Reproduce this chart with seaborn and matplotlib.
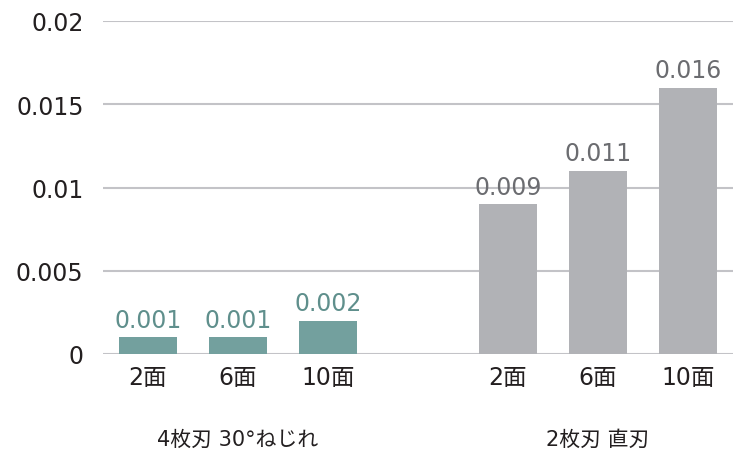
import numpy as np
import matplotlib.pyplot as plt
import matplotlib.transforms as mtransforms
import seaborn as sns
import pandas as pd

groups = ['4枚刃 30°ねじれ', '2枚刃 直刃']
faces = ['2面', '6面', '10面']
values_4 = [0.001, 0.001, 0.002]
values_2 = [0.009, 0.011, 0.016]
yticks = [0, 0.005, 0.01, 0.015, 0.02]
ytick_labels = ['0', '0.005', '0.01', '0.015', '0.02']

bar_colors = {groups[0]: '#73a09e', groups[1]: '#b1b2b6'}
label_colors = {groups[0]: '#5f8f8c', groups[1]: '#6b6c70'}

rows = []
for g, vals in zip(groups, [values_4, values_2]):
    for f, v in zip(faces, vals):
        rows.append({'key': g + '|' + f, 'group': g, 'face': f, 'value': v})
df = pd.DataFrame(rows)

# empty slot between the two groups
order = [groups[0] + '|' + f for f in faces] + [' '] + [groups[1] + '|' + f for f in faces]

sns.set_theme(style='white')
plt.rcParams['font.family'] = ['DejaVu Sans', 'Noto Sans CJK JP']

fig = plt.figure(figsize=(7.34, 4.56), dpi=100)
ax = fig.add_axes([103 / 734, 1 - 355 / 456, 630 / 734, 333 / 456])

sns.barplot(data=df, x='key', y='value', hue='group', order=order, hue_order=groups,
            palette=bar_colors, width=0.65, dodge=False, legend=False, saturation=1,
            linewidth=0, ax=ax, zorder=3)

for cont, g in zip(ax.containers, groups):
    ax.bar_label(cont, fmt='%.3f', padding=4, color=label_colors[g], fontsize=17)

ax.set_ylim(0, 0.02)
ax.set_yticks(yticks)
ax.set_yticklabels(ytick_labels)
ax.set_xticks(range(len(order)))
ax.set_xticklabels([k.split('|')[1] if '|' in k else '' for k in order])
ax.tick_params(axis='both', length=0, labelsize=17, labelcolor='#231f20')
ax.tick_params(axis='y', pad=14)
ax.tick_params(axis='x', pad=8)
ax.set_xlim(-0.5, len(order) - 0.5)
ax.set_xlabel('')
ax.set_ylabel('')
ax.yaxis.grid(True, color='#c3c3c7', linewidth=1.5)
ax.set_axisbelow(True)
for s in ax.spines.values():
    s.set_visible(False)

trans = mtransforms.blended_transform_factory(ax.transData, fig.transFigure)
for g in groups:
    idx = [i for i, k in enumerate(order) if k.startswith(g + '|')]
    ax.text(np.mean(idx), 1 - 440 / 456, g, transform=trans, ha='center', va='center',
            fontsize=15, color='#231f20')

fig.savefig('out.png', dpi=100)
